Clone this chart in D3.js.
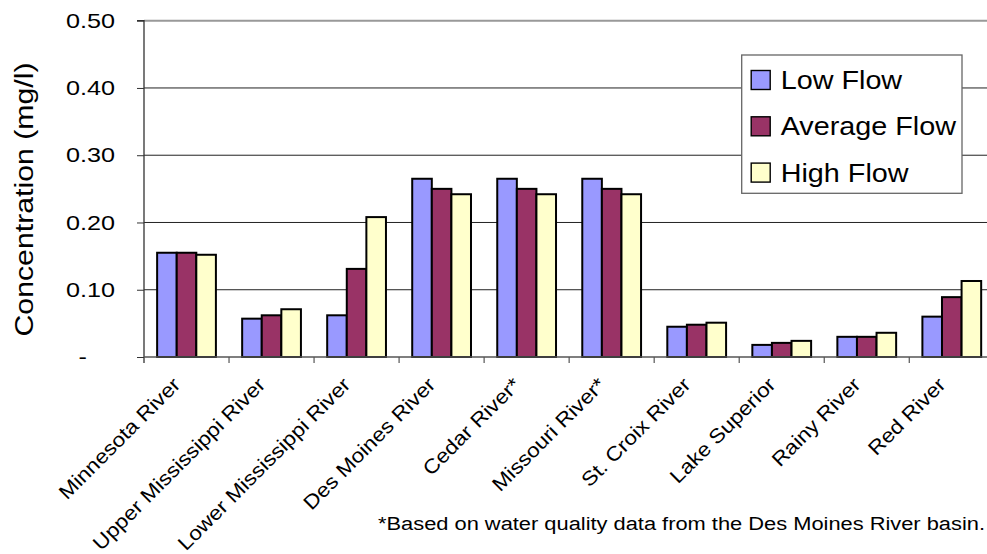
<!DOCTYPE html>
<html>
<head>
<meta charset="utf-8">
<script src="https://cdn.jsdelivr.net/npm/d3@7"></script>
<style>
  html, body { margin: 0; padding: 0; background: #fff; }
  svg { display: block; font-family: "Liberation Sans", Arial, sans-serif; }
</style>
</head>
<body>
<svg id="chart" width="987" height="554"></svg>
<script>
// River sites and flow-condition concentrations (mg/l)
const rivers = ["Minnesota River", "Upper Mississippi River", "Lower Mississippi River",
  "Des Moines River", "Cedar River*", "Missouri River*", "St. Croix River",
  "Lake Superior", "Rainy River", "Red River"];
const seriesNames = ["Low Flow", "Average Flow", "High Flow"];
const lowFlow     = [0.155, 0.057, 0.062, 0.265, 0.265, 0.265, 0.045, 0.018, 0.030, 0.060];
const averageFlow = [0.155, 0.062, 0.131, 0.250, 0.250, 0.250, 0.048, 0.021, 0.030, 0.089];
const highFlow    = [0.152, 0.071, 0.208, 0.242, 0.242, 0.242, 0.051, 0.024, 0.036, 0.113];
const yTicks = [0, 0.1, 0.2, 0.3, 0.4, 0.5];
const yTitle = "Concentration (mg/l)";
const footnote = "*Based on water quality data from the Des Moines River basin.";

const colors = ["#9999FF", "#993366", "#FFFFCC"];
const values = [lowFlow, averageFlow, highFlow];

const svg = d3.select("#chart");
const plot = { left: 144, right: 994.3, top: 20.7, bottom: 357 };

const x = d3.scaleBand().domain(rivers).range([plot.left, plot.right]).paddingInner(0).paddingOuter(0);
const xs = d3.scaleBand().domain(seriesNames).range([0, x.bandwidth()]).paddingInner(0).paddingOuter(0.67);
const y = d3.scaleLinear().domain([0, 0.5]).range([plot.bottom, plot.top]);

// stretch text along its own baseline
function stretch(sel, k) {
  sel.each(function () {
    const L = this.getComputedTextLength();
    this.setAttribute("textLength", L * k);
    this.setAttribute("lengthAdjust", "spacingAndGlyphs");
  });
}

// gridlines (the top one doubles as the plot-area border)
svg.append("g")
  .selectAll("line")
  .data(yTicks.filter(d => d > 0))
  .join("line")
  .attr("x1", plot.left).attr("x2", plot.right)
  .attr("y1", d => y(d)).attr("y2", d => y(d))
  .attr("stroke", d => d === 0.5 ? "#999" : "#222")
  .attr("stroke-width", d => d === 0.5 ? 2 : 1);

// bars
const groups = svg.append("g")
  .selectAll("g")
  .data(rivers)
  .join("g")
  .attr("transform", d => `translate(${x(d)},0)`);

groups.selectAll("rect")
  .data((d, i) => seriesNames.map((s, j) => ({ s, j, v: values[j][i] })))
  .join("rect")
  .attr("x", d => xs(d.s))
  .attr("width", xs.bandwidth())
  .attr("y", d => y(d.v))
  .attr("height", d => y(0) - y(d.v))
  .attr("fill", d => colors[d.j])
  .attr("stroke", "#000")
  .attr("stroke-width", 2);

// y axis
const yAxis = svg.append("g")
  .attr("transform", `translate(${plot.left},0)`)
  .call(d3.axisLeft(y).tickValues(yTicks).tickSize(7).tickPadding(22)
    .tickFormat(d => d === 0 ? "-" : d3.format(".2f")(d)));
yAxis.select(".domain").attr("stroke", "#333").attr("stroke-width", 1.3)
  .attr("d", `M-7,${plot.top}H0V${plot.bottom + 6}`);
yAxis.selectAll(".tick line").attr("stroke", "#333");
yAxis.selectAll(".tick text")
  .attr("font-size", 21).attr("fill", "#000")
  .attr("font-family", "Liberation Sans, Arial, sans-serif")
  .call(stretch, 1.2)
  .attr("dx", d => d === 0 ? -28 : 0);

// x axis baseline, boundary ticks and rotated labels
const xAxis = svg.append("g")
  .attr("transform", `translate(0,${plot.bottom})`)
  .call(d3.axisBottom(x).tickSize(0).tickPadding(0));
xAxis.select(".domain").attr("stroke", "#555").attr("stroke-width", 1.3)
  .attr("d", `M${plot.left},0H${plot.right}`);
xAxis.selectAll(".tick text")
  .attr("font-size", 20).attr("fill", "#000")
  .attr("font-family", "Liberation Sans, Arial, sans-serif")
  .attr("text-anchor", "end")
  .attr("y", 0).attr("dy", 0)
  .attr("transform", "translate(-5,29) rotate(-45)")
  .call(stretch, 1.12);

xAxis.append("g")
  .selectAll("line")
  .data(rivers.slice(1))
  .join("line")
  .attr("x1", d => x(d)).attr("x2", d => x(d))
  .attr("y1", 0).attr("y2", 6)
  .attr("stroke", "#555").attr("stroke-width", 1.2);

// y axis title
svg.append("text")
  .attr("transform", "translate(33,199.5) rotate(-90)")
  .attr("text-anchor", "middle")
  .attr("font-size", 25)
  .text(yTitle)
  .call(stretch, 1.21);

// legend
const legend = svg.append("g").attr("transform", "translate(741.7,55)");
legend.append("rect")
  .attr("width", 220.3).attr("height", 138.3)
  .attr("fill", "#fff").attr("stroke", "#666").attr("stroke-width", 1.3);
const rows = legend.selectAll("g.row")
  .data(seriesNames)
  .join("g")
  .attr("class", "row")
  .attr("transform", (d, i) => `translate(0,${25 + i * 46.3})`);
rows.append("rect")
  .attr("x", 9.5).attr("y", -9.5)
  .attr("width", 19).attr("height", 19)
  .attr("fill", (d, i) => colors[i])
  .attr("stroke", "#000").attr("stroke-width", 1.4);
rows.append("text")
  .attr("x", 39).attr("y", 9)
  .attr("font-size", 25)
  .text(d => d)
  .call(stretch, 1.15);

// footnote
svg.append("text")
  .attr("x", 378).attr("y", 530)
  .attr("font-size", 18)
  .attr("textLength", 607)
  .attr("lengthAdjust", "spacingAndGlyphs")
  .text(footnote);
</script>
</body>
</html>
